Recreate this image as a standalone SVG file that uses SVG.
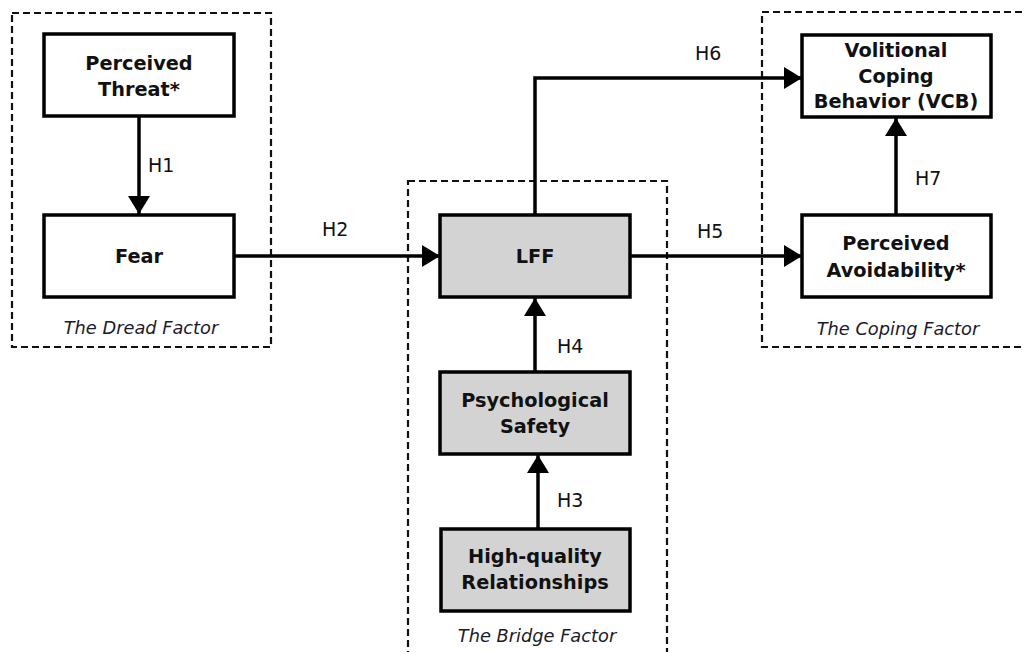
<svg xmlns="http://www.w3.org/2000/svg" width="1024" height="652" viewBox="0 0 1024 652">
<style>
.grp{fill:none;stroke:#111;stroke-width:2.2;stroke-dasharray:7,4}
.box{fill:#fff;stroke:#000;stroke-width:3.5}
.grey{fill:#d3d3d3}
.t{font-family:"DejaVu Sans",Verdana,sans-serif;font-weight:bold;font-size:19.3px;fill:#111;text-anchor:middle}
.h{font-family:"DejaVu Sans",Verdana,sans-serif;font-size:19px;fill:#111}
.g{font-family:"DejaVu Sans",Verdana,sans-serif;font-style:italic;font-size:17.8px;fill:#1a1a2a;text-anchor:middle}
.c{fill:none;stroke:#000;stroke-width:3.5}
</style>
<defs>
<marker id="ah" markerUnits="userSpaceOnUse" markerWidth="18" markerHeight="22" refX="18" refY="11" orient="auto">
<path d="M0,0 L18,11 L0,22 z" fill="#000"/>
</marker>
</defs>
<rect width="1024" height="652" fill="#fff"/>
<g id="dread-factor">
<rect class="grp" x="12" y="13" width="259" height="334"/>
<text class="g" x="141" y="334">The Dread Factor</text>
</g>
<g id="bridge-factor">
<rect class="grp" x="408" y="181" width="259" height="480"/>
<text class="g" x="537" y="642">The Bridge Factor</text>
</g>
<g id="coping-factor">
<rect class="grp" x="762" y="12" width="270" height="335"/>
<text class="g" x="898" y="335">The Coping Factor</text>
</g>
<g id="connectors">
<line class="c" x1="139" y1="117" x2="139" y2="214" marker-end="url(#ah)"/>
<line class="c" x1="234" y1="256" x2="440" y2="256" marker-end="url(#ah)"/>
<line class="c" x1="538" y1="529" x2="538" y2="455" marker-end="url(#ah)"/>
<line class="c" x1="535" y1="372" x2="535" y2="298" marker-end="url(#ah)"/>
<line class="c" x1="630" y1="256" x2="802" y2="256" marker-end="url(#ah)"/>
<polyline class="c" points="535,215 535,78 802,78" marker-end="url(#ah)"/>
<line class="c" x1="896" y1="215" x2="896" y2="118" marker-end="url(#ah)"/>
<text class="h" x="148" y="172">H1</text>
<text class="h" x="322" y="236">H2</text>
<text class="h" x="557" y="507">H3</text>
<text class="h" x="557" y="353">H4</text>
<text class="h" x="697" y="238">H5</text>
<text class="h" x="695" y="60">H6</text>
<text class="h" x="915" y="185">H7</text>
</g>
<g id="perceived-threat">
<rect class="box" x="44" y="34" width="190" height="82"/>
<text class="t" x="139" y="70">Perceived</text>
<text class="t" x="139" y="96">Threat*</text>
</g>
<g id="fear">
<rect class="box" x="44" y="215" width="190" height="82"/>
<text class="t" x="139" y="263">Fear</text>
</g>
<g id="lff">
<rect class="box grey" x="440" y="215" width="190" height="82"/>
<text class="t" x="535" y="263">LFF</text>
</g>
<g id="psychological-safety">
<rect class="box grey" x="440" y="372" width="190" height="82"/>
<text class="t" x="535" y="407">Psychological</text>
<text class="t" x="535" y="433">Safety</text>
</g>
<g id="high-quality-relationships">
<rect class="box grey" x="441" y="529" width="189" height="82"/>
<text class="t" x="535" y="563">High-quality</text>
<text class="t" x="535" y="589">Relationships</text>
</g>
<g id="vcb">
<rect class="box" x="802" y="35" width="189" height="82"/>
<text class="t" x="896" y="57">Volitional</text>
<text class="t" x="896" y="83">Coping</text>
<text class="t" x="896" y="108">Behavior (VCB)</text>
</g>
<g id="perceived-avoidability">
<rect class="box" x="802" y="215" width="189" height="82"/>
<text class="t" x="896" y="250">Perceived</text>
<text class="t" x="896" y="277">Avoidability*</text>
</g>
</svg>
